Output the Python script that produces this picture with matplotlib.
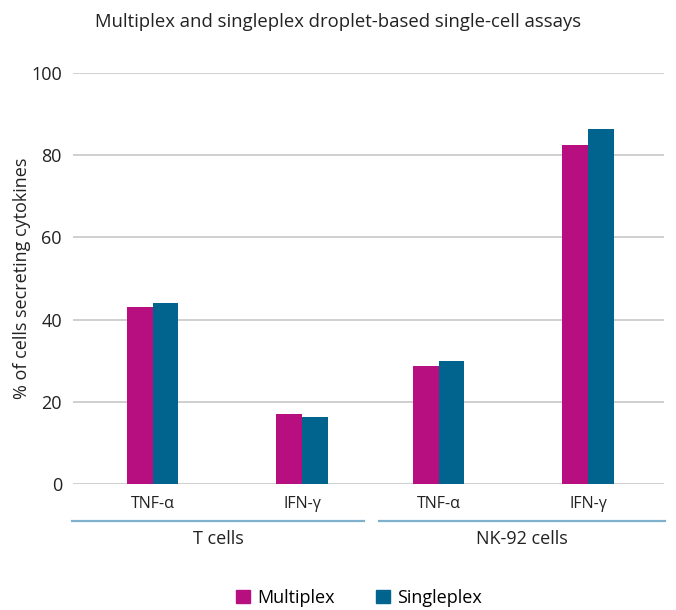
import matplotlib
matplotlib.use("Agg")
import matplotlib.pyplot as plt
import numpy as np
from matplotlib.patches import Patch

plt.rcParams['font.family'] = ['Open Sans', 'DejaVu Sans']

categories = ["TNF-α", "IFN-γ", "TNF-α", "IFN-γ"]
groups = ["T cells", "NK-92 cells"]
multiplex = [43.1, 17.0, 28.7, 82.5]
singleplex = [44.0, 16.3, 29.9, 86.4]
series_names = ["Multiplex", "Singleplex"]
colors = ["#B80F80", "#00648F"]

fig = plt.figure(figsize=(6.76, 6.10), dpi=100)
ax = fig.add_axes([73/676, 1-484/610, (664-73)/676, (484-73)/610])

# layout: two categories per group, groups spaced slightly closer than in-group spacing
group_step = 1.913
x = np.array([g * group_step + k for g in range(len(groups)) for k in range(2)])
w = 0.171
ax.bar(x - w/2, multiplex, width=w, color=colors[0], zorder=3)
ax.bar(x + w/2, singleplex, width=w, color=colors[1], zorder=3)

ax.set_xlim(-0.532, 3.421)
ax.set_ylim(0, 100)
ax.set_yticks(np.arange(0, 101, 20))
ax.yaxis.grid(True, color="#cfcfcf", linewidth=1.4, zorder=0)
for s in ax.spines.values():
    s.set_visible(False)
ax.tick_params(axis='both', length=0)
ax.tick_params(axis='y', labelsize=13, pad=8, labelcolor="#222222")
ax.set_xticks(x)
ax.set_xticklabels(categories, fontsize=11.5, color="#222222")
ax.tick_params(axis='x', pad=9)
ax.set_ylabel("% of cells secreting cytokines", fontsize=13, color="#222222")
ax.yaxis.set_label_coords(-(73-31)/(664-73), 0.5)

# group lines and labels
trans = ax.get_xaxis_transform()
line_y = -(521-484)/(484-73)
lab_y = -(539-484)/(484-73)
spans = [(-0.54, 1.415), (1.515, 3.43)]
for (a, b), g in zip(spans, groups):
    ax.plot([a, b], [line_y, line_y], transform=trans, color="#7fb0cc", lw=1.6, clip_on=False)
    ax.text((a+b)/2, lab_y, g, transform=trans, ha='center', va='center', fontsize=13, color="#222222")

fig.text(338/676, 1-22/610, "Multiplex and singleplex droplet-based single-cell assays",
         ha='center', va='center', fontsize=13.3, color="#222222")

handles = [Patch(color=c, label=n) for c, n in zip(colors, series_names)]
fig.legend(handles=handles, loc='center', bbox_to_anchor=(359/676, 1-598/610), ncol=2,
           frameon=False, fontsize=13, handlelength=0.75, handleheight=0.75,
           handletextpad=0.4, columnspacing=2.3)

fig.savefig("out.png", dpi=100)
